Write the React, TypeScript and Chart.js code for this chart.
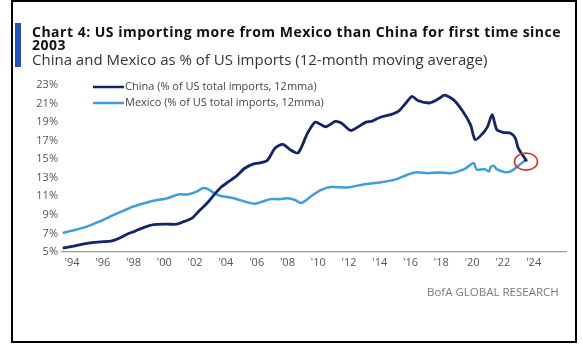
import React, { useEffect, useRef } from "react";
import { Chart, registerables } from "chart.js";

Chart.register(...registerables);

const titleLine1 = "Chart 4: US importing more from Mexico than China for first time since";
const titleLine2 = "2003";
const subtitle = "China and Mexico as % of US imports (12-month moving average)";
const sourceText = "BofA GLOBAL RESEARCH";

const chinaLabel = "China (% of US total imports, 12mma)";
const mexicoLabel = "Mexico (% of US total imports, 12mma)";

const xTickYears = [1994, 1996, 1998, 2000, 2002, 2004, 2006, 2008, 2010, 2012, 2014, 2016, 2018, 2020, 2022, 2024];

const chinaYears = [
  1993.4, 1994.0, 1994.7, 1995.3, 1995.8, 1996.6, 1997.1, 1997.6, 1998.1, 1998.6,
  1999.3, 2000.2, 2000.8, 2001.3, 2001.8, 2002.3, 2002.8, 2003.2, 2003.7, 2004.2,
  2004.7, 2005.2, 2005.8, 2006.2, 2006.7, 2007.2, 2007.7, 2008.2, 2008.7, 2009.3,
  2009.8, 2010.1, 2010.5, 2011.1, 2011.5, 2012.1, 2012.6, 2013.1, 2013.5, 2014.0,
  2014.7, 2015.2, 2015.7, 2016.1, 2016.5, 2017.2, 2017.6, 2017.9, 2018.2, 2018.8,
  2019.4, 2019.9, 2020.2, 2020.7, 2021.0, 2021.3, 2021.6, 2022.0, 2022.5, 2022.8,
  2023.0, 2023.5,
];
const chinaValues = [
  5.43, 5.6, 5.85, 6.0, 6.08, 6.2, 6.5, 6.94, 7.25, 7.6,
  7.94, 8.0, 8.0, 8.3, 8.65, 9.5, 10.3, 11.1, 12.0, 12.6,
  13.2, 14.0, 14.5, 14.6, 14.9, 16.2, 16.6, 16.0, 15.7, 17.8,
  19.0, 18.8, 18.5, 19.07, 18.9, 18.1, 18.5, 19.0, 19.1, 19.5,
  19.8, 20.15, 21.06, 21.77, 21.3, 21.06, 21.3, 21.6, 21.9, 21.4,
  20.15, 18.7, 17.1, 17.8, 18.5, 19.8, 18.2, 17.9, 17.8, 17.3,
  16.2, 14.9,
];

const mexicoYears = [
  1993.4, 1994.0, 1994.7, 1995.3, 1995.8, 1996.5, 1997.1, 1998.0, 1999.1, 2000.2,
  2000.9, 2001.5, 2002.1, 2002.5, 2002.8, 2003.2, 2003.6, 2004.5, 2005.4, 2005.9,
  2006.4, 2006.9, 2007.5, 2008.0, 2008.5, 2008.9, 2009.7, 2010.2, 2010.8, 2011.9,
  2013.1, 2014.0, 2015.0, 2015.8, 2016.3, 2017.1, 2017.9, 2018.6, 2019.5, 2020.1,
  2020.3, 2020.8, 2021.1, 2021.2, 2021.4, 2021.6, 2022.1, 2022.5, 2023.0, 2023.5,
];
const mexicoValues = [
  7.05, 7.3, 7.6, 7.95, 8.3, 8.84, 9.27, 9.9, 10.45, 10.8,
  11.2, 11.2, 11.5, 11.9, 11.8, 11.4, 11.07, 10.8, 10.35, 10.2,
  10.45, 10.7, 10.7, 10.8, 10.6, 10.28, 11.2, 11.7, 12.0, 11.96,
  12.33, 12.5, 12.8, 13.33, 13.58, 13.5, 13.58, 13.5, 13.94, 14.59,
  13.87, 13.94, 13.69, 14.16, 14.3, 13.94, 13.62, 13.69, 14.3, 14.95,
];

const CHINA_COLOR = "#13246b";
const MEXICO_COLOR = "#3f9ddb";
const FONT = "'Open Sans', 'Noto Sans', sans-serif";

const overlayPlugin = {
  id: "overlay",
  afterDatasetsDraw(chart: any) {
    const ctx = chart.ctx;
    const xs = chart.scales.x;
    const ys = chart.scales.y;
    const area = chart.chartArea;
    ctx.save();
    const li = chinaYears.length - 1;
    const cx = xs.getPixelForValue(chinaYears[li]);
    const cy = ys.getPixelForValue(chinaValues[li]) + 1.5;
    ctx.strokeStyle = "#d8352a";
    ctx.lineWidth = 1.6;
    ctx.beginPath();
    ctx.ellipse(cx, cy, 11.5, 8.5, 0, 0, Math.PI * 2);
    ctx.stroke();
    ctx.fillStyle = CHINA_COLOR;
    ctx.beginPath();
    ctx.arc(cx, ys.getPixelForValue(chinaValues[li]), 1.6, 0, Math.PI * 2);
    ctx.fill();

    const items = [
      { label: chinaLabel, color: CHINA_COLOR, dy: 2 },
      { label: mexicoLabel, color: MEXICO_COLOR, dy: 18 },
    ];
    ctx.font = `11px ${FONT}`;
    ctx.textBaseline = "middle";
    ctx.textAlign = "left";
    for (const it of items) {
      const y = area.top + it.dy;
      ctx.strokeStyle = it.color;
      ctx.lineWidth = 2.5;
      ctx.beginPath();
      ctx.moveTo(area.left + 31, y);
      ctx.lineTo(area.left + 62, y);
      ctx.stroke();
      ctx.fillStyle = "#444";
      ctx.fillText(it.label, area.left + 63, y);
    }
    ctx.restore();
  },
};

export default function App() {
  const canvasRef = useRef<HTMLCanvasElement | null>(null);

  useEffect(() => {
    document.body.style.margin = "0";
    const canvas = canvasRef.current;
    if (!canvas) return;
    const chart = new Chart(canvas, {
      type: "line",
      data: {
        datasets: [
          {
            label: chinaLabel,
            data: chinaYears.map((x, i) => ({ x, y: chinaValues[i] })),
            borderColor: CHINA_COLOR,
            borderWidth: 2.8,
            pointRadius: 0,
            tension: 0.25,
          },
          {
            label: mexicoLabel,
            data: mexicoYears.map((x, i) => ({ x, y: mexicoValues[i] })),
            borderColor: MEXICO_COLOR,
            borderWidth: 2.5,
            pointRadius: 0,
            tension: 0.25,
          },
        ],
      },
      options: {
        animation: false,
        responsive: false,
        devicePixelRatio: 1,
        layout: { padding: { top: 85, right: 16, bottom: 73, left: 0 } },
        plugins: {
          legend: { display: false },
          tooltip: { enabled: false },
          title: { display: false },
        },
        scales: {
          x: {
            type: "linear",
            min: 1993.35,
            max: 2026.1,
            grid: { display: false, drawTicks: false },
            border: { display: true, color: "#9a9a9a", width: 1.2 },
            afterBuildTicks: (scale: any) => {
              scale.ticks = xTickYears.map((v) => ({ value: v }));
            },
            afterFit: (scale: any) => {
              scale.height = 20;
            },
            ticks: {
              autoSkip: false,
              maxRotation: 0,
              padding: 4,
              color: "#555",
              font: { family: FONT, size: 11 },
              callback: (v: any) => "'" + String(v).slice(2),
            },
          },
          y: {
            type: "linear",
            min: 5,
            max: 23,
            grid: { display: false, drawTicks: false },
            border: { display: false },
            afterFit: (scale: any) => {
              scale.width = 62;
            },
            ticks: {
              stepSize: 2,
              padding: 4,
              color: "#555",
              font: { family: FONT, size: 11 },
              callback: (v: any) => v + "%",
            },
          },
        },
      },
      plugins: [overlayPlugin],
    } as any);
    return () => chart.destroy();
  }, []);

  return (
    <div style={{ position: "absolute", left: 0, top: 0, width: 582, height: 345, background: "#fff", overflow: "hidden" }}>
      <canvas ref={canvasRef} width={582} height={345} style={{ position: "absolute", left: 0, top: 0, width: 582, height: 345 }} />
      <div style={{ position: "absolute", left: 11, top: 0, width: 566, height: 343, border: "2px solid #000", boxSizing: "border-box", pointerEvents: "none" }} />
      <div style={{ position: "absolute", left: 15, top: 23, width: 6, height: 44, background: "#1f52c4" }} />
      <div style={{ position: "absolute", left: 32, top: 24.5, fontFamily: FONT, fontWeight: 700, fontSize: 14, letterSpacing: "0.5px", lineHeight: "13.5px", color: "#111", whiteSpace: "nowrap" }}>
        {titleLine1}
        <br />
        {titleLine2}
      </div>
      <div style={{ position: "absolute", left: 32, top: 51, fontFamily: FONT, fontSize: 15, lineHeight: "16px", color: "#333", whiteSpace: "nowrap" }}>
        {subtitle}
      </div>
      <div style={{ position: "absolute", left: 427, top: 285, fontFamily: FONT, fontSize: 11.5, lineHeight: "14px", color: "#7a7a7a", whiteSpace: "nowrap" }}>
        {sourceText}
      </div>
    </div>
  );
}
